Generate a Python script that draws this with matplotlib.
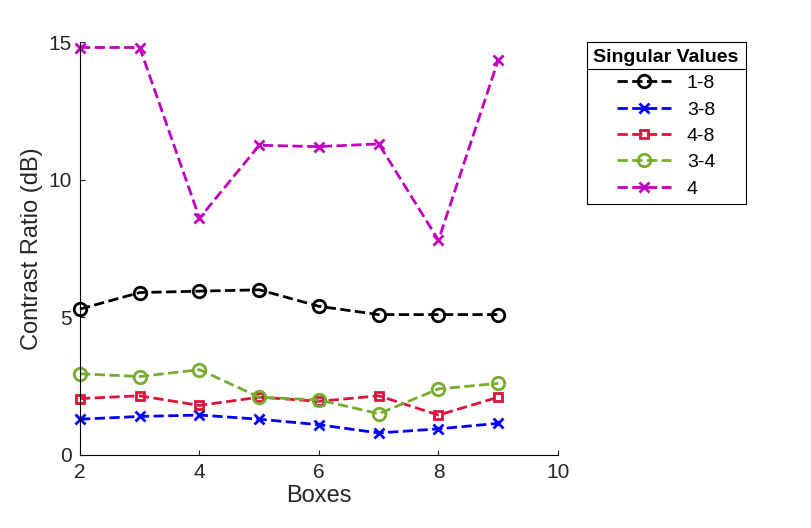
import matplotlib
matplotlib.use("Agg")
import matplotlib.pyplot as plt
from matplotlib.lines import Line2D

boxes = [2, 3, 4, 5, 6, 7, 8, 9]
s18 = [5.3, 5.9, 5.95, 6.0, 5.4, 5.1, 5.1, 5.1]
s38 = [1.3, 1.4, 1.45, 1.3, 1.1, 0.8, 0.95, 1.15]
s48 = [2.05, 2.15, 1.8, 2.1, 1.95, 2.15, 1.45, 2.1]
s34 = [2.95, 2.85, 3.1, 2.1, 2.0, 1.5, 2.4, 2.6]
s4 = [14.8, 14.8, 8.6, 11.25, 11.2, 11.3, 7.8, 14.35]
labels = ["1-8", "3-8", "4-8", "3-4", "4"]

plt.rcParams['font.family'] = ['Liberation Sans', 'DejaVu Sans']
fig = plt.figure(figsize=(8.12, 5.28), dpi=100)
ax = fig.add_axes([80/812, 73/528, 478/812, 413/528])
styles = [(s18, 'black', 'o'), (s38, '#0000ff', 'x'), (s48, '#dc143c', 's'),
          (s34, '#77ac30', 'o'), (s4, '#bf00bf', 'x')]
for (d, c, m), lab in zip(styles, labels):
    ax.plot(boxes, d, '--', color=c, marker=m, mfc='none', mec=c, lw=2,
            ms=9 if m == 'o' else (6 if m == 's' else 7), mew=2, label=lab,
            clip_on=False)
ax.set_xlim(2, 10)
ax.set_ylim(0, 15)
ax.set_xticks([2, 4, 6, 8, 10])
ax.set_yticks([0, 5, 10, 15])
for s in ['top', 'right']:
    ax.spines[s].set_visible(False)
ax.tick_params(direction='in', labelsize=15, colors='#262626', pad=6)
ax.set_xlabel('Boxes', fontsize=17, color='#262626', labelpad=2)
ax.set_ylabel('Contrast Ratio (dB)', fontsize=17, color='#262626')
leg = ax.legend(loc='upper left', bbox_to_anchor=(1.06, 1.0), title='Singular Values',
                fontsize=14, fancybox=False, edgecolor='black', framealpha=1,
                handlelength=2.8, borderpad=0.35, labelspacing=0.45, borderaxespad=0)
leg.get_title().set_fontweight('bold')
leg.get_title().set_fontsize(14)
leg.get_frame().set_linewidth(0.8)
fig.canvas.draw()
r = fig.canvas.get_renderer()
fb = leg.get_frame().get_window_extent(r)
tb = leg.get_title().get_window_extent(r)
yl = (tb.y0 - 3) / fig.bbox.height
fig.add_artist(Line2D([fb.x0 / fig.bbox.width, fb.x1 / fig.bbox.width], [yl, yl],
                      color='black', lw=0.8, transform=fig.transFigure))
fig.savefig('out.png', dpi=100)
